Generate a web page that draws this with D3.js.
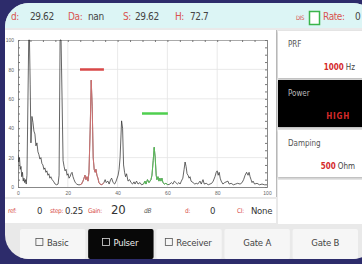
<!DOCTYPE html>
<html><head><meta charset="utf-8">
<script src="https://cdn.jsdelivr.net/npm/d3@7"></script>
<style>
html,body{margin:0;padding:0;background:#2d2c6b;overflow:hidden}
svg{display:block;font-family:"DejaVu Sans Condensed","Liberation Sans",sans-serif}
</style></head><body><div id="screen"></div>
<script>
// values
var xTicks = [0, 20, 40, 60, 80, 100];
var yTicks = [0, 20, 40, 60, 80, 100];
var trace = [[0,22],[0.3,17],[0.6,20],[0.9,12],[1.2,14],[1.5,7],[1.8,10],[2.1,4],[2.4,6],[2.7,3],[3.0,5],[3.3,2],[3.6,8],[4.0,60],[4.3,100],[4.6,100],[4.9,70],[5.2,30],[5.6,48],[6.0,44],[6.4,38],[6.8,36],[7.2,28],[7.6,30],[8.0,24],[8.4,22],[8.8,19],[9.2,20],[9.6,16],[10.0,15],[10.4,12],[10.8,13],[11.2,10],[11.6,11],[12.0,8],[12.4,9],[12.8,6],[13.2,7],[13.7,5],[14.2,4],[14.9,2],[15.5,1.5],[16.1,2],[16.5,8],[16.9,100],[17.3,100],[17.7,60],[18.1,18],[18.5,14],[18.9,11],[19.3,12],[19.7,8],[20.1,9],[20.5,6],[20.9,7],[21.3,9],[21.7,10],[22.1,7],[22.5,5],[23.0,3],[23.6,2],[24.1,1.5],[24.9,1.5],[25.5,2],[26.1,4],[26.5,6],[26.9,8],[27.3,5],[27.7,7],[28.1,4],[28.5,10],[29.0,40],[29.4,72.7],[29.8,55],[30.2,20],[30.6,12],[31.0,10],[31.3,12],[31.7,8],[32.1,6],[32.5,3],[32.9,2],[33.7,1.5],[34.5,3],[35.0,5],[35.4,3],[36.1,4],[36.6,2],[37.2,5],[37.6,6],[38.2,3],[38.8,2],[39.4,4],[40.2,8],[40.6,12],[41.0,20],[41.6,45],[42.0,40],[42.4,15],[42.8,10],[43.2,7],[43.6,9],[44.2,4],[44.8,5],[45.4,3],[46.0,2],[46.6,3.5],[47.0,2],[47.6,4],[48.2,2],[49.0,3],[49.6,1.5],[50.4,2],[51.0,4],[51.4,2],[52.0,5],[52.6,3],[53.4,5],[53.8,8],[54.3,18],[54.7,27],[55.1,20],[55.5,8],[55.8,5],[56.2,7],[56.6,4],[57.0,6],[57.4,4],[57.8,6],[58.2,3],[58.8,2],[59.4,2.5],[60.2,1.5],[61.0,2],[61.6,3],[62.2,2],[62.8,4],[63.4,3],[64.0,2],[64.6,3],[65.1,2],[65.6,4],[66.2,6],[66.7,12],[67.1,17],[67.5,14],[67.9,9],[68.3,8],[68.7,6],[69.1,7],[69.5,4],[70.3,3],[71.0,2],[71.6,2.5],[72.2,2],[73.1,4],[73.6,2],[74.3,5],[74.8,2],[75.6,2.5],[76.4,1.5],[77.1,2],[77.8,2.5],[78.4,4],[79.1,7],[79.6,10],[80.0,11],[80.4,8],[80.8,10],[81.2,6],[81.6,4],[82.3,2],[83.0,3],[84.3,4],[84.8,2],[85.6,2.5],[86.5,1.5],[87.4,2],[88.2,2.5],[89.2,2],[90.0,3],[90.6,5],[91.2,8],[91.8,10],[92.4,8],[92.8,10],[93.2,7],[93.6,5],[94.0,3],[94.4,4],[95.0,2],[96.0,2.5],[97.0,1.5],[98.0,2],[99.0,1.5],[100,1.5]];

var gateNames  = ["A", "B"];
var gateStart  = [24.9, 49.8];
var gateEnd    = [34.5, 60.2];
var gateLevel  = [80, 50];
var gateColors = ["#d94848", "#4fcf4f"];
var traceColors = ["#e07070", "#55cc55"];

var readLabels = ["d:", "Da:", "S:", "H:"];
var readValues = ["29.62", "nan", "29.62", "72.7"];

var statusLabels = ["ref:", "step:", "Gain:", "d:", "CI:"];
var statusValues = ["0", "0.25", "20", "0", "None"];

var setNames  = ["PRF", "Power", "Damping"];
var setValues = ["1000", "HIGH", "500"];
var setUnits  = ["Hz", "", "Ohm"];

var tabNames = ["Basic", "Pulser", "Receiver", "Gate A", "Gate B"];
var tabBoxes = [true, true, true, false, false];
var tabActive = 1;

// style setting
var W = 362, H = 264;
var bezel = "#2d2c6b";
var labelRed = "#d9534f";
var textGray = "#444";

var svg = d3.select("#screen").append("svg")
  .attr("width", W).attr("height", H);

var defs = svg.append("defs");
defs.append("clipPath").attr("id", "scr")
  .append("rect").attr("x", 5).attr("y", 3).attr("width", 372).attr("height", 256).attr("rx", 24);
defs.append("clipPath").attr("id", "plot")
  .append("rect").attr("x", 18).attr("y", 39).attr("width", 250).attr("height", 149);
var sh = defs.append("filter").attr("id", "shadow").attr("x", "-10%").attr("y", "-10%").attr("width", "120%").attr("height", "130%");
sh.append("feDropShadow").attr("dx", 0).attr("dy", 1).attr("stdDeviation", 1).attr("flood-color", "#000").attr("flood-opacity", 0.25);

svg.append("rect").attr("width", W).attr("height", H).attr("fill", bezel);

var scr = svg.append("g").attr("clip-path", "url(#scr)");
scr.append("rect").attr("x", 0).attr("y", 0).attr("width", W).attr("height", H).attr("fill", "#e9e9e9");

// top reading bar
scr.append("rect").attr("x", 0).attr("y", 0).attr("width", W).attr("height", 28).attr("fill", "#dcf5f5");
var readX = [11, 68, 123, 175];
var valX  = [30, 88, 135, 190];
var topBar = scr.append("g").attr("font-size", 10).attr("letter-spacing", -0.4);
readLabels.forEach(function(l, i) {
  topBar.append("text").attr("x", readX[i]).attr("y", 20).attr("fill", labelRed).text(l);
  topBar.append("text").attr("x", valX[i]).attr("y", 20).attr("fill", textGray).text(readValues[i]);
});
topBar.append("text").attr("x", 296).attr("y", 20).attr("font-size", 6).attr("fill", labelRed).text("DIS");
topBar.append("rect").attr("x", 309.5).attr("y", 11.5).attr("width", 10).attr("height", 13)
  .attr("fill", "#fff").attr("stroke", "#3bb54a").attr("stroke-width", 1.5);
topBar.append("text").attr("x", 323).attr("y", 20).attr("fill", labelRed).text("Rate:");
topBar.append("text").attr("x", 355).attr("y", 20).attr("fill", textGray).text("0");

// chart panel
scr.append("rect").attr("x", 0).attr("y", 30).attr("width", 276).attr("height", 167).attr("fill", "#fff");
scr.append("line").attr("x1", 276.5).attr("x2", 276.5).attr("y1", 30).attr("y2", 197).attr("stroke", "#bbb");

var x = d3.scaleLinear().domain([0, 100]).range([18, 267]);
var y = d3.scaleLinear().domain([0, 100]).range([187, 40]);

var chart = scr.append("g");
chart.append("g").selectAll("line").data(xTicks.slice(1, -1)).enter().append("line")
  .attr("x1", function(d) { return x(d); }).attr("x2", function(d) { return x(d); })
  .attr("y1", y(0)).attr("y2", y(100)).attr("stroke", "#e4e4e4").attr("stroke-width", 0.8);
chart.append("g").selectAll("line").data(yTicks.slice(1, -1)).enter().append("line")
  .attr("y1", function(d) { return y(d); }).attr("y2", function(d) { return y(d); })
  .attr("x1", x(0)).attr("x2", x(100)).attr("stroke", "#e4e4e4").attr("stroke-width", 0.8);

var minor = d3.range(0, 101, 5);
chart.append("g").attr("transform", "translate(0," + y(0) + ")")
  .call(d3.axisBottom(x).tickValues(xTicks).tickSize(0).tickPadding(4))
  .call(function(g) {
    g.select(".domain").attr("stroke", "#888");
    g.selectAll("text").attr("font-size", 5).attr("fill", "#666");
  });
chart.append("g").attr("transform", "translate(" + x(0) + ",0)")
  .call(d3.axisLeft(y).tickValues(yTicks).tickSize(0).tickPadding(4))
  .call(function(g) {
    g.select(".domain").attr("stroke", "#888");
    g.selectAll("text").attr("font-size", 5).attr("fill", "#666");
  });
chart.append("g").attr("transform", "translate(0," + y(100) + ")")
  .call(d3.axisTop(x).tickValues(minor).tickSize(-2).tickFormat(""))
  .call(function(g) { g.select(".domain").attr("stroke", "#aaa"); g.selectAll("line").attr("stroke", "#777"); });
chart.append("g").attr("transform", "translate(" + x(100) + ",0)")
  .call(d3.axisRight(y).tickValues(minor).tickSize(-2).tickFormat(""))
  .call(function(g) { g.select(".domain").attr("stroke", "#888"); g.selectAll("line").attr("stroke", "#777"); });
chart.append("g").attr("transform", "translate(" + x(0) + ",0)")
  .call(d3.axisRight(y).tickValues(minor).tickSize(2).tickFormat(""))
  .call(function(g) { g.select(".domain").remove(); g.selectAll("line").attr("stroke", "#777"); });

var line = d3.line().x(function(d) { return x(d[0]); }).y(function(d) { return y(d[1]); });
var plot = chart.append("g").attr("clip-path", "url(#plot)");
plot.append("path").datum(trace).attr("d", line)
  .attr("fill", "none").attr("stroke", "#333").attr("stroke-width", 0.75).attr("stroke-linejoin", "round");

gateNames.forEach(function(g, i) {
  var seg = trace.filter(function(d) { return d[0] >= gateStart[i] && d[0] <= gateEnd[i]; });
  plot.append("path").datum(seg).attr("d", line)
    .attr("fill", "none").attr("stroke", traceColors[i]).attr("stroke-width", 0.85);
  plot.append("line")
    .attr("x1", x(gateStart[i])).attr("x2", x(gateEnd[i]))
    .attr("y1", y(gateLevel[i])).attr("y2", y(gateLevel[i]))
    .attr("stroke", gateColors[i]).attr("stroke-width", 2.5);
});

// right settings panel
var cardY = [31, 80, 130];
setNames.forEach(function(n, i) {
  var dark = i === 1;
  var c = scr.append("g").attr("transform", "translate(278," + cardY[i] + ")");
  c.append("rect").attr("width", 90).attr("height", 47).attr("fill", dark ? "#050505" : "#fff")
    .attr("filter", "url(#shadow)");
  c.append("text").attr("x", 10).attr("y", 16).attr("font-size", 8).attr("fill", dark ? "#bbb" : "#555").text(n);
  var v = c.append("text").attr("x", setUnits[i] ? 77 : 72).attr("y", 39).attr("text-anchor", "end").attr("font-size", 8);
  v.append("tspan").attr("fill", "#d42a2a").attr("font-weight", "bold")
    .attr("letter-spacing", dark ? 0.8 : 0).text(setValues[i]);
  if (setUnits[i]) v.append("tspan").attr("fill", "#444").attr("dx", 2).text(setUnits[i]);
});
scr.append("rect").attr("x", 278).attr("y", 180).attr("width", 90).attr("height", 44).attr("fill", "#fff");

// status row
scr.append("rect").attr("x", 0).attr("y", 199).attr("width", 276).attr("height", 24).attr("fill", "#fff");
var stX = [8, 50, 88, 185, 237];
var stV = [37, 65, 111, 210, 251];
var statusRow = scr.append("g").attr("letter-spacing", -0.3);
statusLabels.forEach(function(l, i) {
  statusRow.append("text").attr("x", stX[i]).attr("y", 213).attr("font-size", 6.5).attr("fill", labelRed).text(l);
  statusRow.append("text").attr("x", stV[i]).attr("y", 214).attr("font-size", i === 2 ? 13 : 9.5)
    .attr("fill", "#333").text(statusValues[i]);
});
statusRow.append("text").attr("x", 144).attr("y", 213).attr("font-size", 6.5).attr("font-style", "italic")
  .attr("fill", "#555").text("dB");

// tabs
var tab = d3.scaleBand().domain(tabNames).range([20, 358]).paddingInner(0.04);
tabNames.forEach(function(t, i) {
  var g = scr.append("g").attr("transform", "translate(" + tab(t) + ",229)");
  var act = i === tabActive;
  g.append("rect").attr("width", tab.bandwidth()).attr("height", 30).attr("rx", 2)
    .attr("fill", act ? "#080808" : "#f6f6f6");
  var tx = g.append("text").attr("x", tab.bandwidth() / 2 + (tabBoxes[i] ? 5 : 0)).attr("y", 17)
    .attr("text-anchor", "middle").attr("font-size", 9.5).attr("letter-spacing", -0.2)
    .attr("fill", act ? "#eee" : "#444").text(t);
  if (tabBoxes[i]) {
    var w = tx.node().getComputedTextLength();
    g.append("rect").attr("x", tab.bandwidth() / 2 + 5 - w / 2 - 11).attr("y", 9.5)
      .attr("width", 7).attr("height", 7).attr("fill", "none")
      .attr("stroke", act ? "#ddd" : "#555").attr("stroke-width", 0.8);
  }
});
</script>
</body></html>
